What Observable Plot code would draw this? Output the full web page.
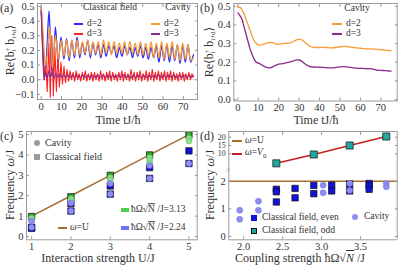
<!DOCTYPE html>
<html><head><meta charset="utf-8">
<script src="https://cdn.jsdelivr.net/npm/d3@7"></script>
<script src="https://cdn.jsdelivr.net/npm/@observablehq/plot@0.6"></script>
<style>
body{margin:0;background:#fff;}
#c{position:relative;width:399px;height:269px;overflow:hidden;background:#fff;font-family:"Liberation Serif","DejaVu Serif",serif;color:#333;}
#c svg{position:absolute;}
.t{position:absolute;white-space:nowrap;line-height:1;font-family:"Liberation Serif","DejaVu Serif",serif;}
.sw{position:absolute;}
</style></head><body><div id="c"></div>
<script>
// ---------- DATA ----------
// (a) time series [t, value]
const aClassicalD2 = [[0,0.5],[0.9,0.22],[1.8,0.02],[2.8,0.2],[3.9,0.47],[4.9,0.12],[5.8,0.03],[7.0,0.36],[8.4,0.12],[9.8,0.29],[11.2,0.14],[12.5,0.28],[13.8,0.13],[15.1,0.27],[16.4,0.15],[17.7,0.29],[19.0,0.15],[20.3,0.25],[21.6,0.17],[22.9,0.27],[24.2,0.15],[25.5,0.25],[26.8,0.17],[28.1,0.24],[29.4,0.15],[30.7,0.24],[32.0,0.16],[33.3,0.23],[34.6,0.18],[35.9,0.23],[37.2,0.15],[38.5,0.22],[39.8,0.16],[41.1,0.23],[42.4,0.17],[43.7,0.22],[45.0,0.15],[46.3,0.22],[47.6,0.16],[48.9,0.23],[50.2,0.15],[51.5,0.22],[52.8,0.14],[54.1,0.22],[55.4,0.15],[56.7,0.23],[58.0,0.12],[59.3,0.23],[60.6,0.13],[61.9,0.24],[63.2,0.12],[64.5,0.23],[65.8,0.13],[67.1,0.24],[68.4,0.11],[69.7,0.23],[71.0,0.12],[72.3,0.24],[73.6,0.12],[75,0.17]];
const aCavityD2 = [[0,0.5],[1,0.3],[2,0.1],[3,0.17],[4.1,0.36],[5.6,0.08],[7.0,0.3],[8.5,0.14],[9.9,0.27],[11.2,0.16],[12.5,0.27],[13.8,0.15],[15.1,0.27],[16.4,0.17],[17.7,0.27],[19.0,0.17],[20.3,0.26],[21.6,0.18],[22.9,0.27],[24.2,0.17],[25.5,0.26],[26.8,0.18],[28.1,0.26],[29.4,0.17],[30.7,0.27],[32.0,0.18],[33.3,0.26],[34.6,0.17],[35.9,0.26],[37.2,0.18],[38.5,0.25],[39.8,0.18],[41.1,0.26],[42.4,0.17],[43.7,0.26],[45.0,0.18],[46.3,0.25],[47.6,0.17],[48.9,0.26],[50.2,0.17],[51.5,0.25],[52.8,0.16],[54.1,0.26],[55.4,0.15],[56.7,0.25],[58.0,0.15],[59.3,0.26],[60.6,0.14],[61.9,0.25],[63.2,0.15],[64.5,0.26],[65.8,0.14],[67.1,0.24],[68.4,0.13],[69.7,0.25],[71.0,0.14],[72.3,0.24],[73.6,0.13],[75,0.15]];
const aClassicalD3 = [[0,0.47],[0.75,0.2],[1.5,0.0],[2.25,0.12],[3,-0.08],[3.75,0.25],[4.5,-0.12],[5.25,0.3],[6,-0.11],[6.75,0.22],[7.5,-0.08],[8.25,0.17],[9,-0.05],[9.75,0.12],[10.5,-0.03],[11.25,0.09],[12,-0.02],[12.75,0.07],[13.5,-0.01],[14.25,0.06],[15,0.0],[15.75,0.05],[16.5,-0.01],[17.25,0.06],[18,0.0],[18.75,0.04],[19.5,-0.01],[20.25,0.05],[21,0.0],[21.75,0.06],[22.5,-0.01],[23.25,0.04],[24,0.0],[24.75,0.05],[25.5,-0.01],[26.25,0.05],[27,0.0],[27.75,0.04],[28.5,-0.01],[29.25,0.06],[30,0.0],[30.75,0.04],[31.5,-0.01],[32.25,0.05],[33,0.0],[33.75,0.06],[34.5,-0.01],[35.25,0.05],[36,0.0],[36.75,0.04],[37.5,-0.01],[38.25,0.05],[39,0.0],[39.75,0.06],[40.5,-0.01],[41.25,0.05],[42,0.0],[42.75,0.04],[43.5,-0.01],[44.25,0.07],[45,0.0],[45.75,0.05],[46.5,-0.01],[47.25,0.05],[48,0.0],[48.75,0.06],[49.5,-0.01],[50.25,0.04],[51,0.0],[51.75,0.06],[52.5,-0.01],[53.25,0.05],[54,0.0],[54.75,0.07],[55.5,-0.01],[56.25,0.05],[57,0.0],[57.75,0.06],[58.5,-0.01],[59.25,0.05],[60,0.0],[60.75,0.06],[61.5,-0.01],[62.25,0.05],[63,0.0],[63.75,0.06],[64.5,-0.01],[65.25,0.05],[66,0.0],[66.75,0.04],[67.5,-0.01],[68.25,0.05],[69,0.0],[69.75,0.05],[70.5,-0.01],[71.25,0.04],[72,0.0],[72.75,0.05],[73.5,0.0],[74.25,0.04],[75,0.02]];
const aCavityD3 = [[0,0.47],[0.7,0.22],[1.4,0.0],[2.2,0.05],[3.0,0.01],[3.8,0.06],[4.6,0.015],[5.5,0.05],[6.4,0.01],[7.3,0.045],[8.2,0.015],[9.1,0.04],[10,0.015],[11,0.035],[12,0.015],[13,0.035],[14.2,0.015],[15.4,0.03],[16.65,0.015],[17.9,0.03],[19.15,0.015],[20.4,0.032],[21.65,0.015],[22.9,0.03],[24.15,0.012],[25.4,0.03],[26.65,0.015],[27.9,0.03],[29.15,0.015],[30.4,0.032],[31.65,0.015],[32.9,0.03],[34.15,0.013],[35.4,0.03],[36.65,0.015],[37.9,0.03],[39.15,0.015],[40.4,0.033],[41.65,0.015],[42.9,0.03],[44.15,0.012],[45.4,0.03],[46.65,0.015],[47.9,0.03],[49.15,0.015],[50.4,0.032],[51.65,0.014],[52.9,0.03],[54.15,0.013],[55.4,0.03],[56.65,0.015],[57.9,0.032],[59.15,0.015],[60.4,0.03],[61.65,0.013],[62.9,0.03],[64.15,0.015],[65.4,0.032],[66.65,0.014],[67.9,0.03],[69.15,0.015],[70.4,0.03],[71.65,0.013],[72.9,0.03],[74.15,0.015],[75,0.025]];
// (b) cavity, smooth
const bCavityD2 = [[0,0.495],[1,0.495],[2,0.48],[3,0.46],[4,0.43],[5,0.4],[6,0.37],[7,0.34],[8,0.315],[9,0.3],[10,0.293],[11,0.292],[12,0.295],[13,0.298],[14,0.302],[15,0.305],[16,0.307],[17,0.305],[18,0.3],[19,0.297],[20,0.296],[21,0.298],[22,0.3],[23,0.301],[24,0.302],[25,0.302],[26,0.305],[27,0.31],[28,0.316],[29,0.321],[30,0.323],[31,0.321],[32,0.314],[33,0.305],[34,0.296],[35,0.288],[36,0.283],[37,0.28],[38,0.279],[40,0.279],[42,0.28],[44,0.278],[46,0.277],[48,0.279],[50,0.283],[52,0.285],[54,0.283],[56,0.28],[58,0.277],[60,0.275],[62,0.273],[64,0.272],[66,0.272],[68,0.269],[70,0.267],[72,0.265],[74,0.263],[75,0.262]];
const bCavityD3 = [[0,0.465],[1,0.45],[2,0.43],[3,0.39],[4,0.35],[5,0.31],[6,0.27],[7,0.24],[8,0.215],[9,0.2],[10,0.195],[11,0.19],[12,0.183],[13,0.177],[14,0.172],[15,0.17],[16,0.171],[17,0.175],[18,0.18],[19,0.186],[20,0.19],[21,0.191],[22,0.192],[23,0.195],[24,0.198],[25,0.2],[26,0.203],[27,0.206],[28,0.21],[29,0.213],[30,0.212],[31,0.207],[32,0.199],[33,0.19],[34,0.183],[35,0.178],[36,0.175],[38,0.174],[40,0.173],[42,0.172],[44,0.17],[46,0.17],[48,0.172],[50,0.175],[52,0.176],[54,0.174],[56,0.171],[58,0.168],[60,0.167],[62,0.166],[64,0.165],[65,0.166],[66,0.163],[68,0.158],[70,0.156],[72,0.155],[74,0.153],[75,0.152]];
// (c) frequency vs U  [U, omega]
const cU = [1,2,3,4,5];
const cGreenClassical = [[1,0.98],[2,1.95],[3,3.0],[4,4.0],[5,4.98]];
const cGreenCavity = [[1,0.9],[2,1.85],[2,1.78],[3,2.88],[3,2.76],[4,3.86],[4,3.72],[4,3.6],[5,4.82],[5,4.68]];
const cBlueClassical = [[1,0.45],[1,0.4],[2,1.62],[2,1.25],[3,2.48],[3,2.08],[4,3.38],[4,2.85],[5,4.2],[5,3.58]];
const cBlueCavity = [[1,0.75],[1,0.45],[2,1.65],[2,1.25],[3,2.6],[3,2.08],[4,3.48],[4,2.85],[5,3.58]];
// (d) frequency vs coupling [g, omega]
const dU = [2];
const dEven = [[2.42,1.71],[2.42,1.62],[2.42,1.25],[2.66,1.74],[2.66,1.40],[2.90,1.85],[2.90,1.55],[3.13,1.86],[3.13,1.65],[3.36,1.9],[3.36,1.65],[3.61,1.92],[3.61,1.83],[3.61,1.71]];
const dCavity = [[1.95,0.95],[1.95,0.62],[2.19,1.28],[2.19,0.95],[3.02,1.86],[3.02,1.58],[3.36,1.92],[3.36,1.67],[3.83,1.92],[3.83,1.8]];
const dOdd = [[2.42,4.3],[2.90,9.6],[3.36,15.0],[3.83,20.4]];
// tick values
const aXTicks = [0,10,20,30,40,50,60,70];
const aYTicks = [-0.1,0,0.1,0.2,0.3,0.4,0.5];
const bYTicks = [0,0.1,0.2,0.3,0.4,0.5];
const cXTicks = [1,2,3,4,5];
const cYTicks = [0,1,2,3,4,5];
const dXTicks = [2.0,2.5,3.0,3.5];
const dYTicksLow = [0,1,2];
const dYTicksHigh = [10,15,20];

// ---------- STYLE ----------
const FONT = '"Liberation Serif","DejaVu Serif",serif';
const AX = "#9a9a9a";
const COL = {blue:"#2a2aff", red:"#ff2020", orange:"#f99a33", purple:"#8a2a8a", brown:"#a66e30",
  dred:"#c81e1e", teal:"#1fa8a2", dblue:"#1212dc", lav:"#8e8ef0", green:"#22a822", lgreen:"#8ee08e"};
const C = document.getElementById("c");
const fmt1 = d => (d < 0 ? "\u2212" : "") + Math.abs(d).toFixed(1);
const fmt0 = d => String(d);
const blank = () => "";
const X = d => d[0], Y = d => d[1];

function place(svg, left, top) { svg.style.left = left + "px"; svg.style.top = top + "px"; C.appendChild(svg); }
function mk(o, fs = "10.5px") {
  return Plot.plot({...o, style: {fontFamily: FONT, fontSize: fs, color: "#333", background: "transparent", overflow: "visible"}});
}
function axX(ticks, fmt, anchor = "bottom", size = -3) {
  return Plot.axisX({anchor, ticks, tickSize: size, tickPadding: anchor === "bottom" ? 6 : 0, tickFormat: fmt, label: null, stroke: AX});
}
function axY(ticks, fmt, anchor = "left", size = -3) {
  return Plot.axisY({anchor, ticks, tickSize: size, tickPadding: anchor === "left" ? 6 : 0, tickFormat: fmt, label: null, stroke: AX});
}
function txt(html, x, y, {size = 10, anchor = "start", rotate = false, color = "#333"} = {}) {
  const d = document.createElement("div");
  d.className = "t"; d.innerHTML = html;
  d.style.fontSize = size + "px"; d.style.color = color;
  d.style.left = x + "px"; d.style.top = y + "px";
  const tx = anchor === "middle" ? "-50%" : anchor === "end" ? "-100%" : "0";
  d.style.transform = `translate(${tx},-50%)` + (rotate ? " rotate(-90deg)" : "");
  C.appendChild(d);
}
function sw(x, y, w, h, color, {round = false, border = null} = {}) {
  const d = document.createElement("div");
  d.className = "sw";
  d.style.left = (x) + "px"; d.style.top = (y - h / 2) + "px";
  d.style.width = w + "px"; d.style.height = h + "px"; d.style.background = color;
  if (round) d.style.borderRadius = "50%";
  if (border) { d.style.boxSizing = "border-box"; d.style.border = border; }
  C.appendChild(d);
}

// ---------- (a) ----------
place(mk({
  width: 200, height: 116, marginLeft: 37, marginRight: 3, marginTop: 3, marginBottom: 17,
  x: {domain: [-1.8, 77]}, y: {domain: [-0.135, 0.52]},
  marks: [
    Plot.ruleY([0], {stroke: "#c4c4c4", strokeWidth: 0.8}),
    Plot.line(aClassicalD2, {x: X, y: Y, stroke: COL.blue, strokeWidth: 1.3, curve: "monotone-x"}),
    Plot.line(aClassicalD3, {x: X, y: Y, stroke: COL.red, strokeWidth: 1.1}),
    Plot.line(aCavityD2, {x: X, y: Y, stroke: COL.orange, strokeWidth: 1.3, curve: "monotone-x"}),
    Plot.line(aCavityD3, {x: X, y: Y, stroke: COL.purple, strokeWidth: 1.1, curve: "monotone-x"}),
    Plot.frame({stroke: AX}),
    axX(aXTicks, fmt0), axX(aXTicks, blank, "top"),
    axY(aYTicks, fmt1), axY(aYTicks, blank, "right")
  ]
}), 0, 0);

// ---------- (b) ----------
place(mk({
  width: 199, height: 116, marginLeft: 33.3, marginRight: 2.3, marginTop: 3, marginBottom: 15.5,
  x: {domain: [-2, 78]}, y: {domain: [-0.008, 0.515]},
  marks: [
    Plot.line(bCavityD2, {x: X, y: Y, stroke: COL.orange, strokeWidth: 1.3, curve: "monotone-x"}),
    Plot.line(bCavityD3, {x: X, y: Y, stroke: COL.purple, strokeWidth: 1.3, curve: "monotone-x"}),
    Plot.frame({stroke: AX}),
    axX(aXTicks, fmt0), axX(aXTicks, blank, "top"),
    axY(bYTicks, fmt1), axY(bYTicks, blank, "right")
  ]
}), 200, 0);

// ---------- (c) ----------
place(mk({
  width: 200, height: 124, marginLeft: 26, marginRight: 3.3, marginTop: 3, marginBottom: 12.7,
  x: {domain: [0.87, 5.21]}, y: {domain: [-0.16, 5.15]},
  marks: [
    Plot.line(cU, {x: d => d, y: d => d, stroke: COL.brown, strokeWidth: 1.5}),
    Plot.dot(cGreenClassical, {x: X, y: Y, symbol: "square", r: 3.6, fill: COL.green, stroke: "#111", strokeWidth: 0.7}),
    Plot.dot(cBlueClassical, {x: X, y: Y, symbol: "square", r: 3.6, fill: COL.dblue, stroke: "#111", strokeWidth: 0.7}),
    Plot.dot(cGreenCavity, {x: X, y: Y, r: 3, fill: COL.lgreen, stroke: "#5cb85c", strokeWidth: 0.5}),
    Plot.dot(cBlueCavity, {x: X, y: Y, r: 3, fill: COL.lav, stroke: "#6a6ad8", strokeWidth: 0.5}),
    Plot.frame({stroke: AX}),
    axX(cXTicks, fmt0), axX(cXTicks, blank, "top"),
    axY(cYTicks, fmt0), axY(cYTicks, blank, "right")
  ]
}), 0, 128);

// ---------- (d) upper ----------
const dX = [1.81, 3.97];
const dYHigh = [0, 23.4];
place(mk({
  width: 199, height: 42, marginLeft: 28.3, marginRight: 2.3, marginTop: 3, marginBottom: 0,
  x: {domain: dX}, y: {domain: dYHigh},
  marks: [
    Plot.line(dOdd, {x: X, y: Y, stroke: COL.dred, strokeWidth: 1.5}),
    Plot.dot(dOdd, {x: X, y: Y, symbol: "square", r: 4, fill: COL.teal, stroke: "#111", strokeWidth: 0.7}),
    Plot.ruleX(dX, {stroke: AX}),
    Plot.ruleY([dYHigh[1]], {stroke: AX}),
    axY(dYTicksHigh, fmt0), axY(dYTicksHigh, blank, "right"),
    axX(dXTicks, blank, "top")
  ]
}, "8px"), 200, 128);

// ---------- (d) lower ----------
const dYLow = [-0.12, 2.39];
place(mk({
  width: 199, height: 84, marginLeft: 28.3, marginRight: 2.3, marginTop: 2, marginBottom: 12.7,
  x: {domain: dX}, y: {domain: dYLow},
  marks: [
    Plot.ruleY(dU, {stroke: COL.brown, strokeWidth: 1.5}),
    Plot.dot(dEven, {x: X, y: Y, symbol: "square", r: 3.6, fill: COL.dblue, stroke: "#111", strokeWidth: 0.7}),
    Plot.dot(dCavity, {x: X, y: Y, r: 3, fill: COL.lav, stroke: "#6a6ad8", strokeWidth: 0.5}),
    Plot.ruleX(dX, {stroke: AX}),
    Plot.ruleY([dYLow[0]], {stroke: AX}),
    axX(dXTicks, d => d.toFixed(1)),
    axY(dYTicksLow, fmt0), axY(dYTicksLow, blank, "right")
  ]
}), 200, 168);

// ---------- TEXT ----------
const RE = 'Re\u27E8b<span style="display:inline-block;vertical-align:middle;font-size:7px;line-height:0.9;text-align:left">\u2020<br>i</span> b<span style="font-size:7px;vertical-align:-2px">i+d</span>\u27E9';
txt("(a)", 0, 8, {size: 12});
txt(RE, 11, 50, {size: 12, anchor: "middle", rotate: true});
txt("Time tJ/\u0127", 118, 120, {size: 12, anchor: "middle"});
txt("Classical field", 110, 8, {size: 9.5, anchor: "middle"});
txt("Cavity", 178, 8, {size: 9.5, anchor: "middle"});
sw(74, 23.5, 9, 2, COL.blue); txt("d=2", 87, 23.5, {size: 9.5});
sw(74, 33.5, 9, 2, COL.red); txt("d=3", 87, 33.5, {size: 9.5});
sw(151, 23.5, 9, 2, COL.orange); txt("d=2", 164, 23.5, {size: 9.5});
sw(151, 33.5, 9, 2, COL.purple); txt("d=3", 164, 33.5, {size: 9.5});

txt("(b)", 200, 8, {size: 12});
txt(RE, 210, 52, {size: 12, anchor: "middle", rotate: true});
txt("Time tJ/\u0127", 316, 120, {size: 12, anchor: "middle"});
txt("Cavity", 357, 8.5, {size: 9.5, anchor: "middle"});
sw(332, 23.5, 10, 2, COL.orange); txt("d=2", 346, 23.5, {size: 9.5});
sw(332, 33.5, 10, 2, COL.purple); txt("d=3", 346, 33.5, {size: 9.5});

const SQN = 'ħΩ<span>√<span style="border-top:1px solid #333;padding-top:0px">N</span></span>';
txt("(c)", 0, 136, {size: 12});
txt("Frequency <i>ω</i>/J", 10, 185, {size: 12, anchor: "middle", rotate: true});
txt("Interaction strength U/J", 98, 258, {size: 12, anchor: "middle"});
sw(34, 142.7, 6, 6, "#9a9a9a", {round: true}); txt("Cavity", 45, 142.7, {size: 10});
sw(34, 156.7, 6, 6, "#9a9a9a"); txt("Classical field", 45, 156.7, {size: 10});
sw(121, 210, 8, 4, "#4dcc4d"); txt(SQN + " /J=3.13", 131, 210, {size: 9.5});
sw(121, 227.7, 8, 4, "#7070f0"); txt(SQN + " /J=2.24", 131, 227.7, {size: 9.5});
sw(58, 227.7, 9, 2, COL.brown); txt("<i>ω</i>=U", 70, 227.7, {size: 9.5});

txt("(d)", 200, 136, {size: 12});
txt("Frequency <i>ω</i>/J", 210, 185, {size: 12, anchor: "middle", rotate: true});
txt("Coupling strength ħΩ<span>√<span style=\"border-top:1px solid #333\"><i>N</i></span></span> /J", 300, 258, {size: 12, anchor: "middle"});
sw(231.5, 141, 10, 2, COL.brown); txt("<i>ω</i>=U", 245, 141, {size: 9.5});
sw(231.5, 154, 10, 2, COL.dred); txt("<i>ω</i>=<i>V</i><sub style=\"font-size:7px\">0</sub>", 245, 154, {size: 9.5});
sw(250.5, 218.3, 6, 6, COL.dblue); txt("Classical field, even", 262, 218.3, {size: 9.5});
sw(352, 217.3, 6, 6, COL.lav, {round: true}); txt("Cavity", 364, 217.3, {size: 9.5});
sw(250.5, 230.7, 6, 6, COL.teal, {border: "0.7px solid #111"}); txt("Classical field, odd", 262, 230.7, {size: 9.5});
txt("//", 228.3, 170, {size: 7, anchor: "middle", color: "#888"});
</script></body></html>
